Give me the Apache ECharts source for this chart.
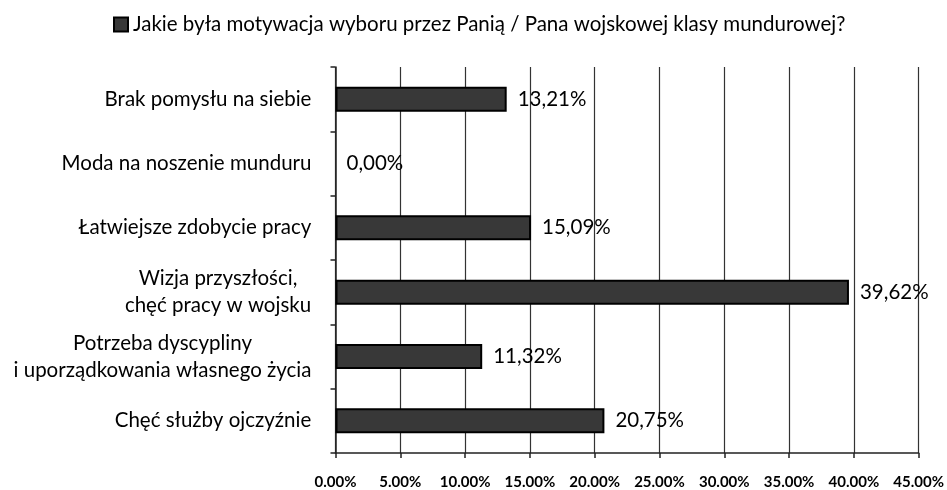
<!DOCTYPE html>
<html><head><meta charset="utf-8">
<script src="https://cdn.jsdelivr.net/npm/echarts@6/dist/echarts.min.js"></script>
<style>html,body{margin:0;padding:0;background:#fff}#c{width:947px;height:490px}</style>
</head><body><div id="c"></div>
<script>
const seriesName = 'Jakie była motywacja wyboru przez Panią / Pana wojskowej klasy mundurowej?';
const categories = [
  'Brak pomysłu na siebie',
  'Moda na noszenie munduru',
  'Łatwiejsze zdobycie pracy',
  'Wizja przyszłości,\nchęć pracy w wojsku',
  'Potrzeba dyscypliny\ni uporządkowania własnego życia',
  'Chęć służby ojczyźnie'
];
const values = [13.21, 0.00, 15.09, 39.62, 11.32, 20.75];
const xMin = 0, xMax = 45, xStep = 5;

const FONT = 'Lato';
const labelSize = 20.5;
const cv = document.createElement('canvas').getContext('2d');
cv.font = labelSize + 'px ' + FONT;
const rich = {};
const catIndex = {};
categories.forEach((c, i) => {
  catIndex[c] = i;
  const lines = c.split('\n');
  const w = Math.max(...lines.map(l => cv.measureText(l).width));
  rich['c' + i] = { width: Math.ceil(w), align: 'center', fontFamily: FONT, fontSize: labelSize, color: '#000', lineHeight: 27 };
});

const chart = echarts.init(document.getElementById('c'));
chart.setOption({
  animation: false,
  textStyle: { fontFamily: FONT },
  legend: {
    data: [seriesName],
    left: 108, top: 9,
    icon: 'rect', itemWidth: 14, itemHeight: 14, itemGap: 5,
    textStyle: { fontFamily: FONT, fontSize: 20.5, color: '#000' }
  },
  grid: { left: 335.5, right: 27, top: 67, bottom: 37, containLabel: false },
  xAxis: {
    type: 'value', min: xMin, max: xMax, interval: xStep,
    axisLine: { show: true, lineStyle: { color: '#222', width: 1.5 } },
    axisTick: { show: true, length: 5, lineStyle: { color: '#222', width: 1.5 } },
    splitLine: { show: true, lineStyle: { color: '#333', width: 1.2 } },
    axisLabel: {
      margin: 22, fontFamily: FONT, fontSize: 15, fontWeight: 'bold', color: '#000',
      formatter: v => v.toFixed(2) + '%'
    }
  },
  yAxis: {
    type: 'category', data: categories, inverse: true,
    axisLine: { show: true, lineStyle: { color: '#222', width: 1.5 } },
    axisTick: { show: true, length: 5, lineStyle: { color: '#222', width: 1.5 } },
    axisLabel: {
      margin: 24, fontFamily: FONT, fontSize: labelSize, color: '#000', lineHeight: 27,
      formatter: v => v.split('\n').map(l => '{c' + catIndex[v] + '|' + l + '}').join('\n'),
      rich: rich
    }
  },
  series: [{
    name: seriesName, type: 'bar', barWidth: 25,
    data: values.map(v => v === 0 ? { value: v, itemStyle: { borderWidth: 0 } } : v),
    itemStyle: { color: '#383838', borderColor: '#000', borderWidth: 2 },
    label: {
      show: true, position: 'right', distance: 11,
      fontFamily: FONT, fontSize: 20.5, color: '#000',
      formatter: p => p.value.toFixed(2).replace('.', ',') + '%'
    }
  }]
});
</script></body></html>
